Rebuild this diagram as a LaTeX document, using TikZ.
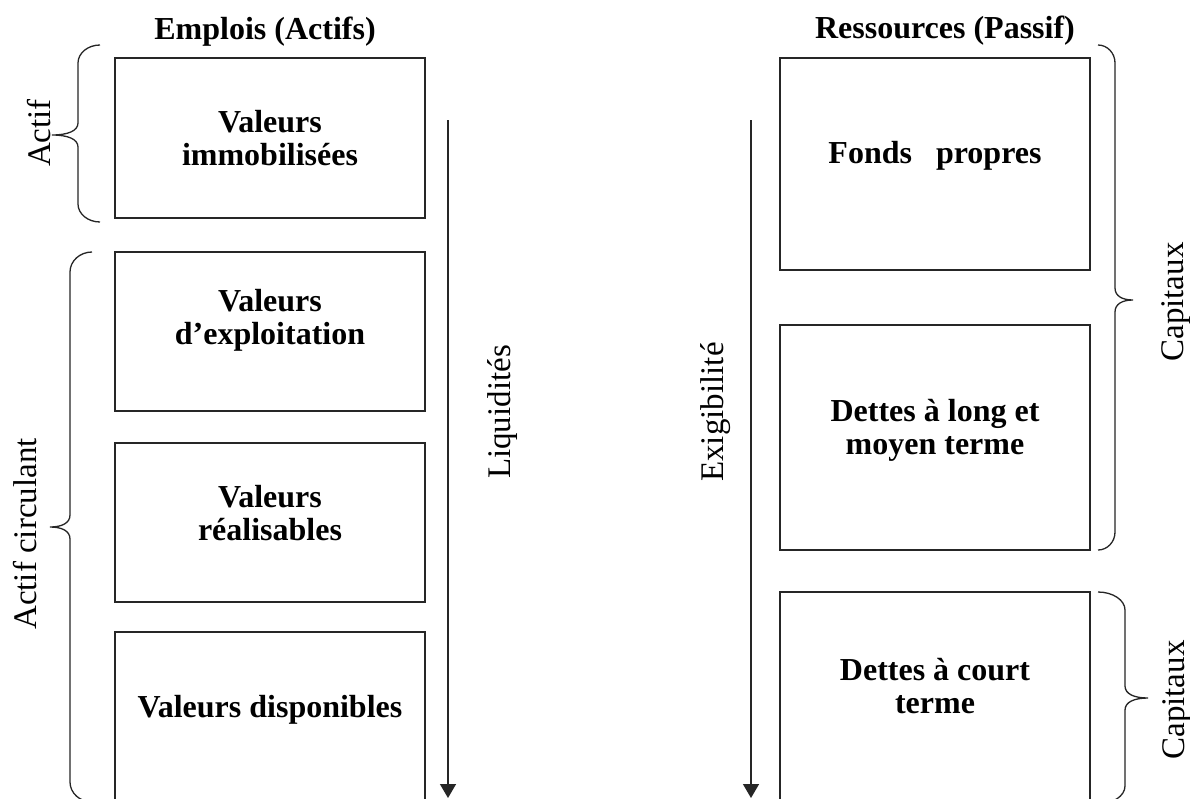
\documentclass[tikz,border=0pt]{standalone}
\usepackage{fontspec}
\setmainfont{Liberation Serif}
\usetikzlibrary{arrows.meta}

% curly brace: end x, spine x, tip x, top y, tip y, bottom y, corner radius
\newcommand{\drawbrace}[7]{%
  \draw[brace]
    (#1,#4) .. controls ({#2+0.45*(#1-#2)},#4) and (#2,{#4+0.45*#7}) .. (#2,{#4+#7})
    -- (#2,{#5-12})
    .. controls (#2,{#5-4}) and ({#2+0.4*(#3-#2)},#5) .. (#3,#5)
    .. controls ({#2+0.4*(#3-#2)},#5) and (#2,{#5+4}) .. (#2,{#5+12})
    -- (#2,{#6-#7})
    .. controls (#2,{#6-0.45*#7}) and ({#2+0.45*(#1-#2)},#6) .. (#1,#6);}

\tikzset{
  box/.style={draw=black!85, line width=1.4pt, minimum width=310pt, inner sep=0pt},
  boxtext/.style={font=\fontsize{32}{33}\selectfont\bfseries, align=center, inner sep=0pt},
  head/.style={font=\fontsize{32}{33}\selectfont\bfseries, anchor=base, inner sep=0pt},
  side/.style={font=\fontsize{33}{34}\selectfont, rotate=90, anchor=base, inner sep=0pt},
  brace/.style={line width=1.3pt, black!85},
  flow/.style={line width=1.4pt, black!85, -{Triangle[width=16pt,length=14pt]}}
}

\begin{document}
\begin{tikzpicture}[x=1pt,y=-1pt]
\useasboundingbox (0,0) rectangle (1190,798);
\clip (0,0) rectangle (1190,798);
\fill[white] (0,0) rectangle (1190,798);

% headings
\node[head] (hl) at (265,39) {Emplois (Actifs)};
\node[head] (hr) at (945,38) {Ressources (Passif)};

% assets column
\node[box, minimum height=160pt] (vi) at (270,138) {};
\node[box, minimum height=159pt] (ve) at (270,331.5) {};
\node[box, minimum height=159pt] (vr) at (270,522.5) {};
\node[box, minimum height=198pt] (vd) at (270,731) {};
\node[boxtext] (tvi) at (270,138) {Valeurs\\immobilisées};
\node[boxtext] (tve) at (270,320) {Valeurs\\d’exploitation};
\node[boxtext] (tvr) at (270,513) {Valeurs\\réalisables};
\node[boxtext] (tvd) at (270,709.5) {Valeurs disponibles};

% liabilities column
\node[box, minimum height=212pt] (fp) at (935,164) {};
\node[box, minimum height=225pt] (dl) at (935,437.5) {};
\node[box, minimum height=238pt] (dc) at (935,711) {};
\node[boxtext] (tfp) at (935,155.5) {Fonds\hspace{24pt}propres};
\node[boxtext] (tdl) at (935,430) {Dettes à long et\\moyen terme};
\node[boxtext] (tdc) at (935,686) {Dettes à court\\terme};

% ordering arrows
\coordinate (lqa) at (448,120);
\coordinate (lqb) at (448,798);
\coordinate (exa) at (751,120);
\coordinate (exb) at (751,798);
\draw[flow] (lqa) -- (lqb);
\draw[flow] (exa) -- (exb);
\node[side] (lq) at (510,412) {Liquidités};
\node[side] (ex) at (723,412) {Exigibilité};

% braces
\drawbrace{100}{78}{52}{45}{135}{222}{18}
\drawbrace{92}{70}{50}{252}{527}{802}{20}
\drawbrace{1098}{1115}{1133}{45}{300}{550}{18}
\drawbrace{1098}{1125}{1148}{592}{698}{804}{18}

\node[side] (la) at (50,133) {Actif};
\node[side] (lc) at (36,534) {Actif circulant};
\node[side] (c1) at (1183,302) {Capitaux};
\node[side] (c2) at (1184,700) {Capitaux};
\end{tikzpicture}
\end{document}
